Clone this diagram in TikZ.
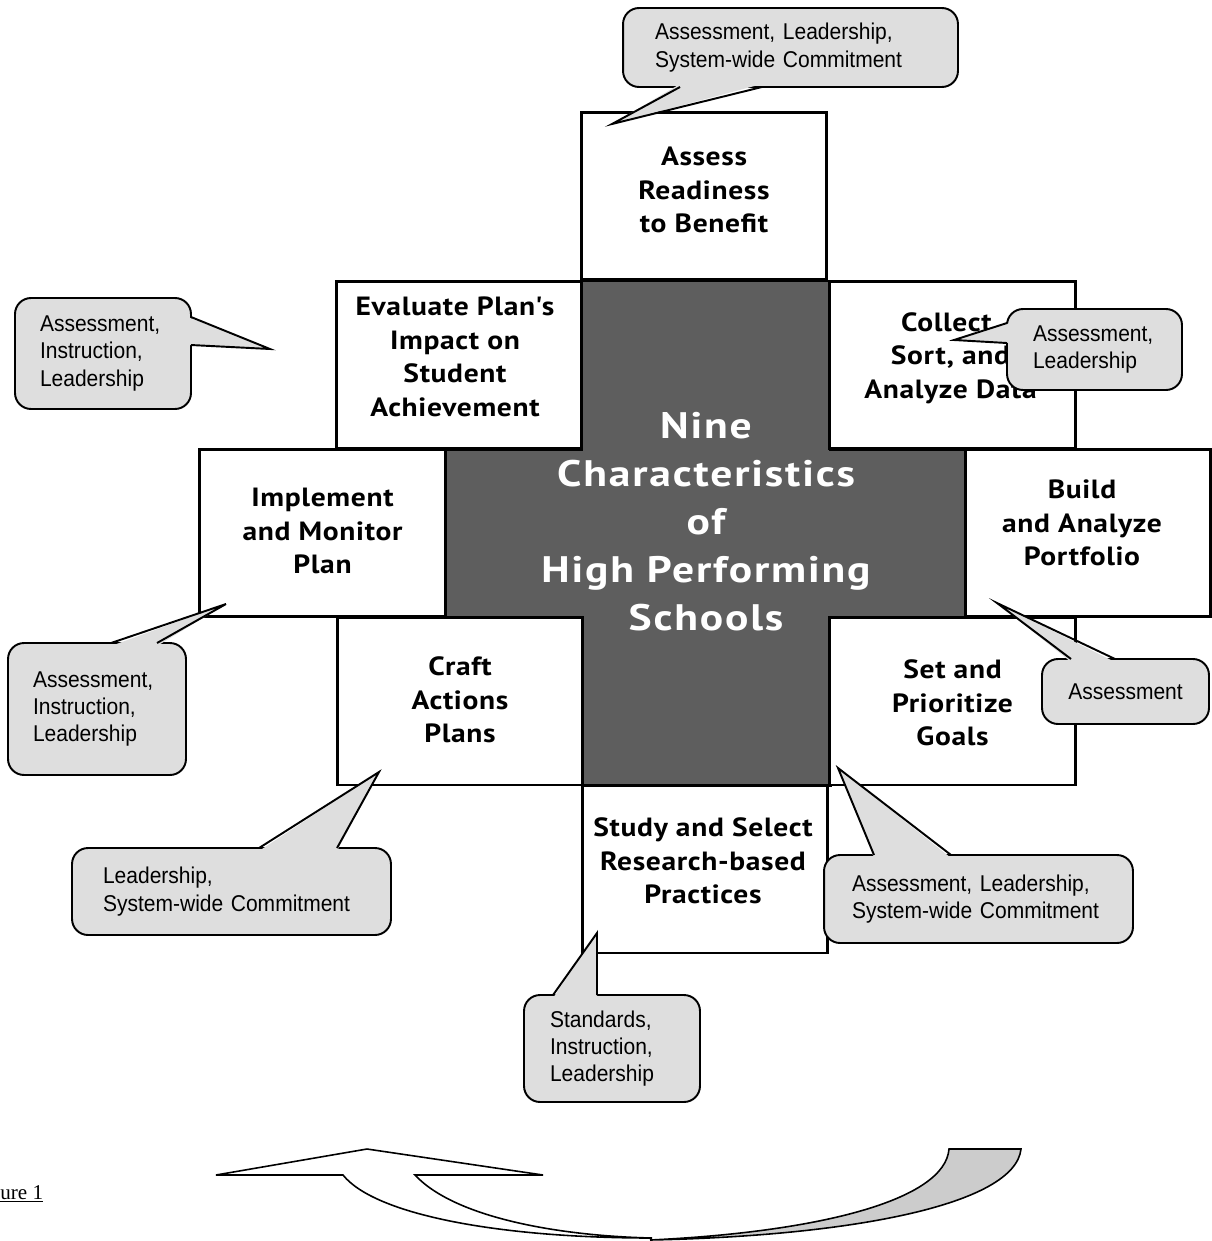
\documentclass[tikz,border=0pt]{standalone}
\usepackage{fontspec}
\usetikzlibrary{positioning, calc}

\newfontfamily\stagefamily{PT Sans}[FakeStretch=1.12, LetterSpace=2.5]
\newfontfamily\hubfamily{PT Sans}[FakeStretch=1.18, LetterSpace=5.0]
\newfontfamily\notefamily{Liberation Sans}[FakeStretch=0.92, WordSpace=0.8]
\newfontfamily\capfamily{Liberation Serif}

\definecolor{hubgray}{gray}{0.37}
\definecolor{notegray}{gray}{0.87}
\definecolor{backgray}{gray}{0.80}

\begin{document}
\begin{tikzpicture}[
  x=0.02cm, y=-0.02cm,
  stage/.style={
    draw, line width=1.7pt, fill=white,
    minimum width=4.92cm, minimum height=3.36cm, inner sep=0pt
  },
  stagetext/.style={align=center, inner sep=0pt,
    font=\stagefamily\bfseries\fontsize{15}{19.1}\selectfont},
  hub/.style={font=\hubfamily\bfseries\fontsize{21}{27.3}\selectfont, text=white, align=center},
  hubline/.style={draw, line width=1.7pt, fill=hubgray},
  note/.style={
    draw, line width=1.1pt, fill=notegray, rounded corners=0.32cm,
    align=left, inner ysep=0pt, outer sep=0pt,
    font=\notefamily\frenchspacing\fontsize{13}{15.5}\selectfont
  },
  notefill/.style={fill=notegray},
  noteline/.style={line width=1.1pt, line join=miter},
  ribbon/.style={draw, line width=0.9pt, fill=white},
  ribbonback/.style={draw, line width=0.9pt, fill=backgray},
  figlabel/.style={font=\capfamily\fontsize{12}{14}\selectfont, inner sep=0pt},
]
  \useasboundingbox (0,0) rectangle (1212,1241);

  % --- Central cross ---
  \draw[hubline] (582,281) -- (830,281) -- (830,449) -- (968,449) -- (968,617)
    -- (830,617) -- (830,785) -- (582,785) -- (582,617) -- (445,617)
    -- (445,449) -- (582,449) -- cycle;
  \node[hub] (hub) at (706,522) {Nine\\Characteristics\\of\\High Performing\\Schools};

  % --- Steps round the cross ---
  \node[stage] (assess) at (704,196) {};
  \node[stage] (collect) at (952.5,365) {};
  \node[stage] (build) at (1088,533) {};
  \node[stage] (goals) at (952.5,701) {};
  \node[stage] (study) at (705,869) {};
  \node[stage] (craft) at (460,701) {};
  \node[stage] (implement) at (322.5,533) {};
  \node[stage] (evaluate) at (459,365) {};

  \node[stagetext] (assesstext) at ($(assess)+(0,-6)$) {Assess\\Readiness\\to Benefit};
  \node[stagetext] (collecttext) at ($(collect)+(-2,-7)$) {Collect,\\Sort, and\\Analyze Data};
  \node[stagetext] (buildtext) at ($(build)+(-6,-10)$) {Build\\and Analyze\\Portfolio};
  \node[stagetext] (goalstext) at ($(goals)+(0,2)$) {Set and\\Prioritize\\Goals};
  \node[stagetext] (studytext) at ($(study)+(-2,-8)$) {Study and Select\\Research-based\\Practices};
  \node[stagetext] (crafttext) at ($(craft)+(0,-1)$) {Craft\\Actions\\Plans};
  \node[stagetext] (implementtext) at ($(implement)+(0,-2)$) {Implement\\and Monitor\\Plan};
  \node[stagetext] (evaluatetext) at ($(evaluate)+(-4,-8)$) {Evaluate Plan\textquotesingle s\\Impact on\\Student\\Achievement};

  % --- Callouts ---
  \node[note, minimum width=6.70cm, minimum height=1.58cm, text width=5.42cm, inner xsep=0.64cm]
    (noteTop) at (790.5,47.5) {Assessment, Leadership,\\System-wide Commitment};
  \coordinate (tipTop) at (612,124);
  \fill[notefill] ($(noteTop.south west)+(57,-3)$) -- (tipTop) -- ($(noteTop.south west)+(139,-3)$) -- cycle;
  \draw[noteline] ($(noteTop.south west)+(57,0)$) -- (tipTop) -- ($(noteTop.south west)+(139,0)$);

  \node[note, minimum width=3.52cm, minimum height=2.22cm, text width=2.52cm, inner xsep=0.50cm]
    (noteEval) at (103,353.5) {Assessment,\\Instruction,\\Leadership};
  \coordinate (tipEval) at (270,349);
  \fill[notefill] ($(noteEval.north east)+(-3,19)$) -- (tipEval) -- ($(noteEval.north east)+(-3,47)$) -- cycle;
  \draw[noteline] ($(noteEval.north east)+(0,19)$) -- (tipEval) -- ($(noteEval.north east)+(0,47)$);

  \node[note, minimum width=3.50cm, minimum height=1.62cm, text width=2.46cm, inner xsep=0.52cm]
    (noteCollect) at (1094.5,349.5) {Assessment,\\Leadership};
  \coordinate (tipCollect) at (954,340);
  \fill[notefill] ($(noteCollect.north west)+(3,14)$) -- (tipCollect) -- ($(noteCollect.north west)+(3,34)$) -- cycle;
  \draw[noteline] ($(noteCollect.north west)+(0,14)$) -- (tipCollect) -- ($(noteCollect.north west)+(0,34)$);

  \node[note, minimum width=3.56cm, minimum height=2.64cm, text width=2.56cm, inner xsep=0.50cm]
    (noteImpl) at (97,709) {Assessment,\\Instruction,\\Leadership};
  \coordinate (tipImpl) at (226,604);
  \fill[notefill] ($(noteImpl.north west)+(103,3)$) -- (tipImpl) -- ($(noteImpl.north west)+(149,3)$) -- cycle;
  \draw[noteline] ($(noteImpl.north west)+(103,0)$) -- (tipImpl) -- ($(noteImpl.north west)+(149,0)$);

  \node[note, minimum width=6.38cm, minimum height=1.74cm, text width=5.14cm, inner xsep=0.62cm]
    (noteCraft) at (231.5,891.5) {Leadership,\\System-wide Commitment};
  \coordinate (tipCraft) at (379,772);
  \fill[notefill] ($(noteCraft.north west)+(187,3)$) -- (tipCraft) -- ($(noteCraft.north west)+(265,3)$) -- cycle;
  \draw[noteline] ($(noteCraft.north west)+(187,0)$) -- (tipCraft) -- ($(noteCraft.north west)+(265,0)$);

  \node[note, minimum width=3.52cm, minimum height=2.14cm, text width=2.48cm, inner xsep=0.52cm]
    (noteStudy) at (612,1048.5) {Standards,\\Instruction,\\Leadership};
  \coordinate (tipStudy) at (597,933);
  \fill[notefill] ($(noteStudy.north west)+(29,3)$) -- (tipStudy) -- ($(noteStudy.north west)+(73,3)$) -- cycle;
  \draw[noteline] ($(noteStudy.north west)+(29,0)$) -- (tipStudy) -- ($(noteStudy.north west)+(73,0)$);

  \node[note, minimum width=6.18cm, minimum height=1.76cm, text width=5.06cm, inner xsep=0.56cm]
    (noteSet) at (978.5,899) {Assessment, Leadership,\\System-wide Commitment};
  \coordinate (tipSet) at (838,768);
  \fill[notefill] ($(noteSet.north west)+(50,3)$) -- (tipSet) -- ($(noteSet.north west)+(127,3)$) -- cycle;
  \draw[noteline] ($(noteSet.north west)+(50,0)$) -- (tipSet) -- ($(noteSet.north west)+(127,0)$);

  \node[note, minimum width=3.34cm, minimum height=1.30cm, text width=2.60cm, inner xsep=0.37cm, align=center]
    (noteBuild) at (1125.5,691.5) {Assessment};
  \coordinate (tipBuild) at (997,603);
  \fill[notefill] ($(noteBuild.north west)+(29,3)$) -- (tipBuild) -- ($(noteBuild.north west)+(73,3)$) -- cycle;
  \draw[noteline] ($(noteBuild.north west)+(29,0)$) -- (tipBuild) -- ($(noteBuild.north west)+(73,0)$);

  % --- Cycle arrow ---
  \draw[ribbon] (367,1149) -- (543,1175) -- (415,1175)
    .. controls (455,1218) and (560,1236) .. (652,1238)
    .. controls (500,1238) and (375,1215) .. (343,1175) -- (216,1175) -- cycle;
  \draw[ribbonback] (1021,1149) .. controls (1015,1205) and (850,1236) .. (650,1240)
    .. controls (820,1232) and (945,1200) .. (949,1149) -- cycle;

  \node[figlabel, anchor=base west] (figcap) at (0,1199) {\underline{ure 1}};
\end{tikzpicture}
\end{document}
